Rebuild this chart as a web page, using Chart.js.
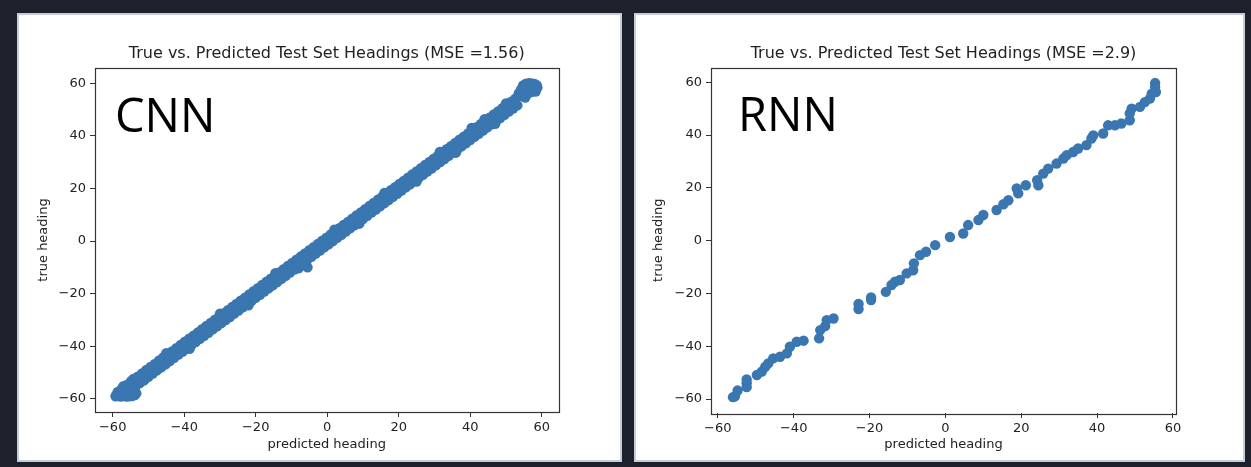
<!DOCTYPE html>
<html><head><meta charset="utf-8">
<script src="https://cdn.jsdelivr.net/npm/chart.js@4/dist/chart.umd.min.js"></script>
<style>
html,body{margin:0;padding:0;background:#1d212b;width:1251px;height:467px;overflow:hidden;}
.panel{position:absolute;background:#fff;box-sizing:border-box;border:2px solid #c9ccd1;}
canvas{position:absolute;}
</style></head><body>
<div class="panel" style="left:17px;top:13px;width:605px;height:449px"></div>
<div class="panel" style="left:634px;top:13px;width:611px;height:449px"></div>
<canvas id="c1" width="600" height="445" style="left:19px;top:15px"></canvas>
<canvas id="c2" width="602" height="445" style="left:636px;top:15px"></canvas>
<script>
const tickValues = [-60, -40, -20, 0, 20, 40, 60];
const titleCNN = 'True vs. Predicted Test Set Headings (MSE =1.56)';
const titleRNN = 'True vs. Predicted Test Set Headings (MSE =2.9)';
const xLabel = 'predicted heading';
const yLabel = 'true heading';

const cnnPredicted = [-59.2,-58.6,-58.9,-57.8,-57.0,-56.2,-55.4,-54.6,-53.8,-53.4,-57.4,-56.6,-55.9,-55.2,-54.8,-54.2,-53.6,-53.0,-52.4,-51.8,-51.2,-50.6,-50.0,-49.4,-48.8,-48.2,-47.6,-47.0,-46.4,-45.8,-45.2,-44.6,-44.0,-43.4,-42.8,-42.2,-41.6,-41.0,-40.4,-39.8,-39.2,-38.6,-38.0,-37.4,-36.8,-36.2,-35.6,-35.0,-34.4,-33.8,-33.2,-32.6,-32.0,-31.4,-30.8,-30.2,-29.6,-29.0,-28.4,-27.8,-27.2,-26.6,-26.0,-25.4,-24.8,-24.2,-23.6,-23.0,-22.4,-21.8,-21.2,-20.6,-20.0,-19.4,-18.8,-18.2,-17.6,-17.0,-16.4,-15.8,-15.2,-14.6,-14.0,-13.4,-12.8,-12.2,-11.6,-11.0,-10.4,-9.8,-9.2,-8.6,-8.0,-7.4,-6.8,-6.2,-5.5,-5.6,-5.0,-4.4,-3.8,-3.2,-2.6,-2.0,-1.4,-0.8,-0.2,0.4,1.0,1.6,2.2,2.8,3.4,4.0,4.6,5.2,5.8,6.4,7.0,7.6,8.2,8.8,9.4,10.0,10.6,11.2,11.8,12.4,13.0,13.6,14.2,14.8,15.4,16.0,16.6,17.2,17.8,18.4,19.0,19.6,20.2,20.8,21.4,22.0,22.6,23.2,23.8,24.4,25.0,25.6,26.2,26.8,27.4,28.0,28.6,29.2,29.8,30.4,31.0,31.6,32.2,32.8,33.4,34.0,34.6,35.2,35.8,36.4,37.0,37.6,38.2,38.8,39.4,40.0,40.4,40.6,41.2,41.8,42.4,43.0,43.6,44.2,44.8,45.4,46.0,46.6,47.2,47.8,48.4,49.0,49.6,50.2,50.8,51.4,52.0,52.6,53.2,53.8,53.6,54.2,54.8,55.6,56.4,57.2,58.0,58.6,58.8,58.4,57.6,56.8,55.8,55.0,54.6,56.2,55.4,
  -45.0,-38.5,-30.0,-22.0,-14.5,-8.0,2.0,9.0,16.0,25.0,31.5,36.0,44.0,47.0,50.0,55.2,57.0,58.3,-57.0,-53.8,-55.0];
const cnnTrue = [-59.0,-57.4,-58.3,-59.1,-58.4,-59.1,-59.0,-58.9,-58.6,-57.9,-56.0,-57.8,-54.6,-56.9,-53.2,-52.4,-55.4,-51.6,-54.0,-50.3,-53.0,-49.0,-51.6,-47.9,-50.4,-46.7,-49.2,-45.4,-48.0,-44.2,-46.9,-43.1,-45.6,-42.0,-44.4,-40.7,-43.2,-39.5,-42.0,-38.3,-40.9,-37.1,-39.6,-36.0,-38.4,-34.8,-37.2,-33.5,-36.0,-32.3,-34.9,-31.1,-33.6,-29.9,-32.4,-28.8,-31.2,-27.5,-30.0,-26.3,-28.9,-25.1,-27.6,-23.9,-26.4,-22.7,-25.2,-21.5,-24.0,-20.3,-22.8,-19.1,-21.6,-17.9,-20.4,-16.7,-19.2,-15.5,-18.0,-14.3,-16.8,-13.1,-15.6,-11.9,-14.4,-10.7,-13.2,-9.5,-12.0,-8.3,-10.8,-7.1,-9.6,-5.9,-8.4,-4.7,-10.0,-7.2,-3.5,-6.0,-2.3,-4.8,-1.1,-3.6,0.1,-2.4,1.3,-1.2,2.5,0.0,3.7,1.2,4.9,2.4,6.1,3.6,7.3,4.8,8.5,6.0,9.7,7.2,10.9,8.4,12.1,9.6,13.3,10.8,14.5,12.0,15.7,13.2,16.9,14.4,18.1,15.6,19.3,16.8,20.5,18.0,21.7,19.2,22.9,20.4,24.1,21.6,25.3,22.8,26.5,24.0,27.7,25.2,28.9,26.4,30.1,27.6,31.3,28.8,32.5,30.0,33.7,31.2,34.9,32.4,36.1,33.6,37.3,34.8,38.5,36.0,39.7,37.2,40.9,38.4,43.0,42.1,39.6,43.3,40.8,44.5,42.0,45.7,43.2,46.9,44.4,48.1,45.6,49.3,46.8,50.5,48.0,51.7,49.2,52.9,50.4,54.1,51.6,55.3,56.2,57.6,59.2,59.8,60.0,59.9,59.7,59.3,58.4,57.6,58.6,58.0,57.4,56.2,55.0,56.3,54.6,
  -42.6,-41.0,-27.6,-24.4,-12.2,-10.4,4.3,6.6,18.3,22.6,33.9,33.6,46.3,44.6,52.3,55.6,56.6,56.8,-55.2,-56.8,-57.6];

const rnnPredicted = [-56.0,-55.5,-54.8,-52.4,-52.4,-52.4,-49.7,-48.4,-47.5,-46.7,-45.4,-43.6,-41.8,-41.0,-39.2,-37.4,-33.3,-33.0,-31.7,-31.3,-29.5,-22.9,-22.9,-19.6,-19.6,-15.7,-14.2,-13.3,-12.0,-10.2,-8.5,-8.3,-6.7,-5.1,-2.7,1.2,4.7,6.0,8.7,10.0,13.5,15.3,16.6,18.8,19.2,21.2,24.2,24.5,25.8,27.1,29.3,31.1,32.0,33.7,35.0,37.2,38.5,39.0,41.6,42.9,44.7,46.4,48.6,48.6,49.1,51.3,52.6,53.9,54.4,55.3,55.3,55.5];
const rnnTrue = [-59.3,-59.0,-56.8,-55.5,-54.0,-52.6,-50.9,-49.6,-47.8,-46.5,-44.6,-44.0,-42.7,-40.2,-38.3,-37.9,-37.0,-33.9,-32.4,-30.1,-29.5,-25.9,-24.0,-22.5,-21.5,-19.4,-16.8,-15.6,-14.9,-12.4,-11.2,-8.6,-5.5,-4.2,-1.7,1.4,2.7,5.9,7.8,9.7,11.6,13.8,15.3,19.8,17.9,21.0,22.9,21.0,25.4,27.3,29.2,31.1,32.4,33.6,34.9,36.2,38.7,39.9,40.6,43.7,43.7,44.4,45.6,48.2,50.0,50.7,52.5,53.8,55.7,58.2,59.7,56.3];

const labelCNN = 'CNN';
const labelRNN = 'RNN';

function fmt(v){ return v < 0 ? '\u2212' + Math.abs(v) : String(v); }
const textFont = {family:'DejaVu Sans', size:13};

function scaleCfg(axis, min, max, size, titleText, titlePad, tickPad){
  return {
    type:'linear', min:min, max:max, position: axis==='x' ? 'bottom' : 'left',
    afterBuildTicks: s => { s.ticks = tickValues.map(v => ({value:v})); },
    afterFit: s => { if (axis==='x') s.height = size; else s.width = size; },
    grid: {display:true, drawOnChartArea:false, drawTicks:true, tickLength:5, tickWidth:1, tickColor:'#333', color:'#333'},
    border: {display:false},
    ticks: {padding:tickPad, color:'#222', font:textFont, callback: v => fmt(v), maxRotation:0, autoSkip:false},
    title: {display:true, text:titleText, color:'#222', font:textFont, padding:titlePad}
  };
}

const framePlugin = {
  id:'frame',
  afterDatasetsDraw(chart){
    const {ctx, chartArea:a} = chart;
    ctx.save();
    ctx.strokeStyle = '#333';
    ctx.lineWidth = 1.2;
    ctx.strokeRect(Math.round(a.left)+0.5, Math.round(a.top)+0.5, Math.round(a.right-a.left), Math.round(a.bottom-a.top));
    ctx.restore();
  }
};
const textPlugin = {
  id:'texts',
  afterDraw(chart, args, opts){
    const {ctx, chartArea:a} = chart;
    ctx.save();
    ctx.fillStyle = '#222';
    ctx.font = '16px "DejaVu Sans"';
    ctx.textAlign = 'center';
    ctx.textBaseline = 'middle';
    ctx.fillText(opts.title, (a.left + a.right) / 2, opts.titleY);
    ctx.fillStyle = '#000';
    ctx.font = '47px "Open Sans"';
    ctx.textBaseline = 'alphabetic';
    ctx.textAlign = 'left';
    ctx.fillText(opts.tag, opts.tagX, opts.tagY);
    ctx.restore();
  }
};

function build(id, xs, ys, title, tag, g){
  new Chart(document.getElementById(id), {
    type:'scatter',
    data:{datasets:[{
      data: xs.map((x,i) => ({x:x, y:ys[i]})),
      pointRadius:5.2, pointHoverRadius:5.2, pointBorderWidth:0,
      pointBackgroundColor:'#3a76b0', backgroundColor:'#3a76b0'
    }]},
    options:{
      responsive:false, animation:false, devicePixelRatio:1,
      layout:{padding:{left:g.padL, right:g.padR, top:g.padT, bottom:0}},
      plugins:{
        legend:{display:false}, tooltip:{enabled:false}, title:{display:false},
        texts:{title:title, titleY:39, tag:tag, tagX:g.tagX, tagY:g.tagY}
      },
      scales:{
        x: scaleCfg('x', g.xmin, g.xmax, g.xh, xLabel, {top:0, bottom:7.2}, 3),
        y: scaleCfg('y', g.ymin, g.ymax, 60, yLabel, {top:g.yTitlePad, bottom:0}, 4)
      }
    },
    plugins:[framePlugin, textPlugin]
  });
}

build('c1', cnnPredicted, cnnTrue, titleCNN, labelCNN,
  {padL:16, padR:60.5, padT:53, xh:48, yTitlePad:1.2, xmin:-64.95, xmax:64.7, ymin:-65, ymax:65.8, tagX:96, tagY:117});
build('c2', rnnPredicted, rnnTrue, titleRNN, labelRNN,
  {padL:15, padR:62, padT:52.5, xh:47, yTitlePad:0, xmin:-61.8, xmax:60.8, ymin:-65.3, ymax:65.6, tagX:102, tagY:116});
</script>
</body></html>
